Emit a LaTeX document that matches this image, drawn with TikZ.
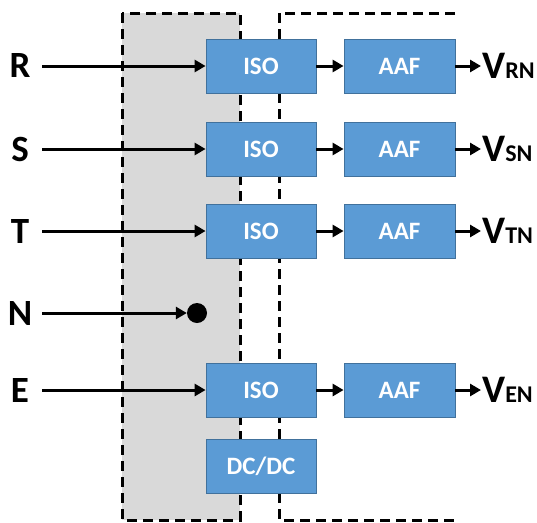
\documentclass[tikz,border=0pt]{standalone}
\usepackage{fontspec}
\setmainfont{Carlito}
\usetikzlibrary{arrows.meta}
\definecolor{boxBlue}{HTML}{5B9BD5}
\definecolor{boxEdge}{HTML}{41719C}
\definecolor{zoneGray}{HTML}{D9D9D9}
\newcommand{\outlbl}[1]{{\fontsize{39}{39}\selectfont V}{\fontsize{24}{24}\selectfont #1}}

\begin{document}
\begin{tikzpicture}[x=1pt, y=-1pt,
    blk/.style={draw=boxEdge, line width=0.8pt, fill=boxBlue, text=white,
      minimum width=110pt, minimum height=54pt, inner sep=0pt,
      font=\fontsize{25}{25}\selectfont\bfseries},
    inlbl/.style={minimum width=44pt, inner sep=0pt, font=\fontsize{37}{37}\selectfont\bfseries},
    outlbl/.style={anchor=west, inner xsep=1pt, inner ysep=0pt, font=\bfseries},
    arr/.style={line width=3pt, -{Triangle[length=11pt, width=12pt]}},
    zone/.style={line width=3pt, dash pattern=on 10pt off 6pt}]
    \useasboundingbox (0,0) rectangle (537,522);
    % dashed zones
    \draw[zone, fill=zoneGray] (122,13) rectangle (240,520);
    \draw[zone] (455,13) -- (279,13) -- (279,520) -- (455,520);
    % signal rows
    \foreach \ph/\y in {R/66, S/149, T/231, E/390} {
      \node[inlbl] (lbl\ph) at (20,\y) {\ph};
      \node[blk] (iso\ph) at (261,\y) {ISO};
      \node[blk, minimum width=111pt] (aaf\ph) at (399.5,\y) {AAF};
      \node[outlbl] (out\ph) at (481,\y) {\outlbl{\ph N}};
      \draw[arr] (lbl\ph.east) -- (iso\ph.west);
      \draw[arr] (iso\ph.east) -- (aaf\ph.west);
      \draw[arr] (aaf\ph.east) -- (out\ph.west);
    }
    % neutral
    \node[inlbl] (lblN) at (20,313) {N};
    \node[circle, fill=black, minimum size=20pt, inner sep=0pt] (dotN) at (197,313) {};
    \draw[arr] (lblN.east) -- (dotN.west);
    % supply
    \node[blk] (dcdc) at (261,466) {DC/DC};
  \end{tikzpicture}
\end{document}
